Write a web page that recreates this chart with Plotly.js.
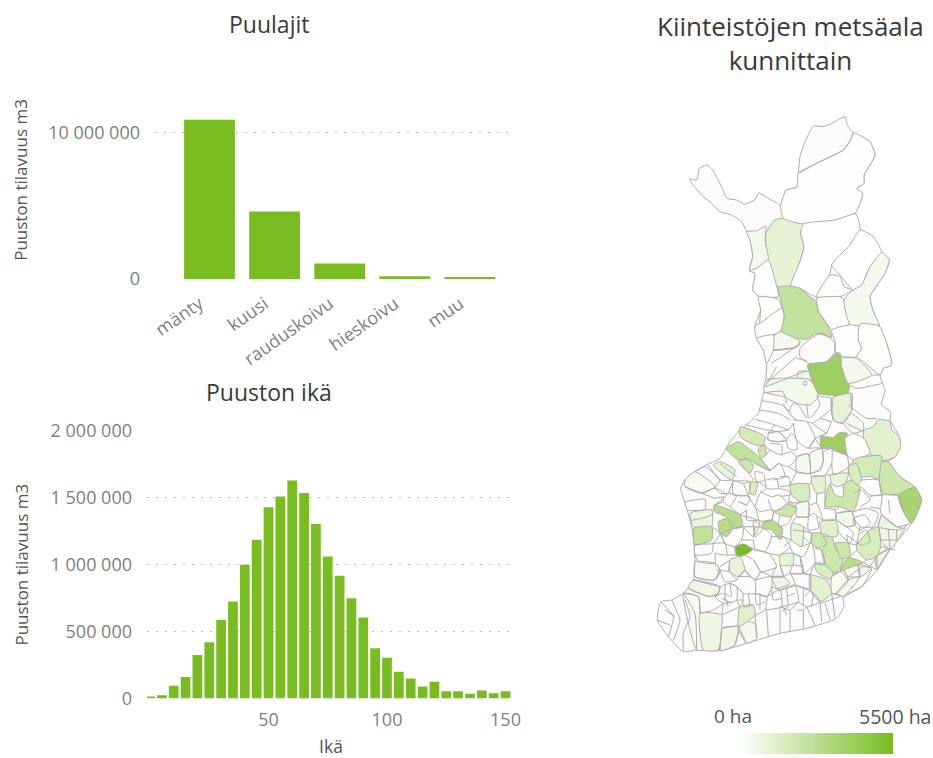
<!DOCTYPE html>
<html><head><meta charset="utf-8">
<script src="https://cdn.plot.ly/plotly-3.0.1.min.js"></script>
<style>html,body{margin:0;padding:0;background:#fff}</style></head>
<body><div id="chart" style="width:933px;height:758px"></div>
<script>
// ---- bar data
const species = ["mänty","kuusi","rauduskoivu","hieskoivu","muu"];
const speciesVolume = [10900000,4620000,1060000,190000,70000];
const ageClass = [0,5,10,15,20,25,30,35,40,45,50,55,60,65,70,75,80,85,90,95,100,105,110,115,120,125,130,135,140,145,150];
const ageVolume = [15000,25000,95000,160000,325000,420000,587000,725000,1000000,1187000,1430000,1510000,1630000,1537000,1305000,1062000,917000,750000,605000,375000,305000,200000,150000,90000,125000,55000,55000,35000,60000,40000,55000];
const legendValues = [0,500,1000,1500,2000,2500,3000,3500,4000,4500,5000,5500];

// ---- map data: "x,y x,y ..." in map units
const finlandOutline = "475,220 480,170 495,125 520,78 550,80 580,68 615,50 622,75 640,98 690,125 705,165 690,195 672,225 672,250 650,265 668,280 660,310 645,340 660,390 700,410 725,458 748,478 735,520 690,590 700,635 718,678 740,730 755,795 730,805 720,825 728,850 735,870 725,915 752,935 750,960 775,1005 782,1035 765,1070 745,1085 780,1130 825,1162 845,1200 815,1270 750,1350 712,1410 665,1460 610,1490 612,1520 590,1555 500,1585 420,1600 320,1630 240,1652 170,1650 130,1655 85,1610 52,1560 62,1505 95,1500 130,1480 160,1440 165,1385 160,1310 150,1260 135,1210 122,1165 135,1140 165,1115 205,1092 240,1075 270,1025 300,990 330,965 355,940 365,900 375,860 380,790 370,750 350,715 345,678 362,630 355,590 338,570 345,520 328,512 338,470 330,420 320,395 305,365 275,345 240,335 215,310 190,290 165,262 148,237 170,240 178,205 200,195 218,210 240,250 262,295 290,300 312,313 345,298 355,278 385,295 415,312 422,320 438,270 470,262 475,220";

const northHa = [1050,500,60,30,30,2400,120,120,80,120,120,120,3900,400,400,120,500,700,100];
const northAreas = [
"378,400 405,360 430,355 490,372 482,400 492,440 478,490 452,558 412,560 390,520 378,450",
"320,395 350,392 378,378 375,420 385,480 350,505 328,512 338,470 330,420",
"475,220 540,185 610,150 632,120 640,98 690,125 705,165 690,195 672,225 672,250 650,265 668,280 660,310 645,340 585,360 490,372 430,355 422,320 438,270 470,262",
"490,372 585,360 648,342 660,390 630,435 575,495 570,520 530,590 480,565 452,558 478,490 492,440 482,400",
"660,390 700,410 725,458 690,500 665,555 640,570 600,525 575,495 630,435",
"415,562 452,558 480,565 510,590 530,605 535,640 560,670 575,712 530,700 500,718 460,712 420,695 432,650 425,610",
"570,525 600,530 612,560 635,570 600,590 530,590",
"530,595 600,590 612,600 630,650 625,675 575,690 560,670 535,630",
"328,512 350,505 385,480 405,540 415,590 355,588 338,570 345,520",
"355,590 415,598 425,625 360,670 362,630",
"345,678 360,670 425,625 432,650 420,695 350,715",
"575,690 625,675 660,672 655,720 665,745 650,770 610,770 585,755 585,725",
"502,795 560,785 590,758 600,760 605,800 628,855 622,885 530,880 512,860 518,840",
"725,458 748,478 735,520 690,590 700,635 718,678 630,672 612,600 640,570 665,555 690,500",
"400,710 420,695 460,712 480,722 475,740 400,750",
"660,672 718,678 740,730 755,795 730,805 720,825 670,785 650,770 665,745 655,720",
"605,775 650,775 695,825 625,850 605,800",
"475,815 505,815 518,860 512,870 470,870",
"350,715 400,705 400,750 380,790 370,750"
];
const northLines = [
"475,220 540,185 610,150 632,120 640,98",
"400,750 470,740 480,725","395,790 475,735","375,860 410,800","380,848 470,770","470,775 500,782","378,860 500,812",
"585,755 590,758","480,745 500,725 530,705 550,700 585,730 585,755 560,785 505,790 480,770 480,745",
"490,845 500,845 500,855 490,855 490,845",
"720,825 695,825","628,855 650,865 728,850"
];

const southHa = [3900,1180,100,1750,2050,3500,2050,1600,1180,940,1600,2050,2850,5500,2500,2850,2850,1750,2500,2050,2050,1600,2050,2050,2050,2850,1600,1250,1600,1180,1250,660,940,940,940,940];
const southAreas = [
"542,170 580,172 598,158 622,160 615,185 620,225 600,218 575,205 545,205",
"672,150 700,140 715,118 750,125 755,150 778,170 782,200 765,230 730,243 695,225 672,190",
"615,175 640,160 672,175 690,220 640,240 622,225 615,185",
"648,235 725,228 715,298 695,290 660,290 630,255",
"725,245 745,245 780,290 825,322 775,345 725,340 718,300",
"775,345 825,322 845,360 815,430 785,385",
"570,310 585,345 610,350 610,315 630,300 660,320 640,395 600,380 555,380 560,340",
"450,315 505,312 508,360 480,365 455,345",
"515,290 555,290 555,335 530,340 515,310",
"570,285 625,280 615,310 590,320 575,310",
"625,260 648,250 665,300 650,315 630,290",
"402,395 430,385 450,365 470,385 455,410 420,405",
"370,425 395,420 428,445 420,480 395,450 370,445",
"285,500 312,492 338,508 315,525 290,527",
"160,445 215,440 215,480 165,495",
"235,425 262,415 280,440 260,470 240,460",
"222,375 300,405 308,440 280,445 262,412 225,395",
"300,140 375,170 370,195 345,195 300,170",
"260,205 295,185 350,225 390,272 345,250 320,235 295,240 265,215",
"355,205 375,195 378,225 362,235",
"295,245 320,238 340,255 330,280",
"330,310 352,305 345,345 330,340",
"515,460 545,460 560,490 535,505 515,490",
"550,470 575,470 585,500 610,540 585,580 555,555 545,510 560,490",
"585,490 625,490 630,530 605,535",
"600,570 625,533 670,548 640,558 605,572",
"650,495 690,450 715,440 722,500 710,530 680,540 650,510",
"540,425 585,420 595,445 590,470 575,470 545,460",
"525,550 550,550 580,580 570,598 530,575",
"510,585 560,600 575,640 540,665 510,630",
"300,680 340,675 345,705 295,740",
"180,700 245,705 245,745 235,810 190,810",
"270,540 300,530 315,570 295,590 270,575",
"455,430 490,440 485,500 455,480",
"420,525 460,520 458,555 420,555",
"240,245 285,270 275,300 220,255"
];
const paleHa = [330,800,300,660,500,700,500,400,500,660,660,500,1000,400,400,400,300,600,800,300,500,350];
const paleAreas = [
"135,300 165,275 225,320 185,340 135,320",
"150,400 215,390 215,440 160,440",
"130,640 175,650 180,700 190,810 170,810",
"245,745 295,740 285,795 240,812",
"320,725 345,730 350,775 320,790 295,745",
"395,590 430,590 450,610 410,625",
"340,420 370,445 345,470",
"470,370 505,365 505,410 470,410",
"590,400 635,395 645,435 620,440 590,420",
"725,405 770,440 790,445 800,435 750,510 722,480 715,440",
"160,600 240,620 235,640 210,650 145,625",
"378,0 510,0 535,50 510,75 470,70 430,50 372,35",
"575,55 635,40 635,90 610,130 580,120",
"610,130 632,100 670,130 670,150 640,160",
"510,220 545,205 550,240 540,270 510,280",
"470,230 505,222 510,280 470,275",
"575,590 610,570 625,600 590,640 575,640",
"655,555 695,565 660,590",
"705,530 750,505 722,550 712,570",
"385,160 415,155 440,180 415,185 385,180",
"590,640 625,600 660,590 610,650",
"165,545 225,550 240,570 225,600 165,590"
];
const southLines = [
"372,38 428,35 440,70","365,62 425,75 455,100","358,90 415,100 450,120","345,118 405,135 445,150","320,135 380,150 415,155",
"430,70 445,95 460,70 475,75 500,115","500,70 505,115","540,50 575,55 575,85 540,115 520,130 560,160","530,45 540,75 510,115",
"460,120 500,125 525,175 505,205 470,180 460,130","625,75 680,115 710,115","575,55 580,120 610,130 632,100","632,40 635,90","620,130 670,155","575,125 560,160",
"385,160 415,155 440,180 415,185 385,180","440,180 455,160 470,180 470,210 445,205 440,180","390,190 425,195 425,225 390,210","425,225 455,215 470,235 445,260 415,250",
"470,230 505,222 510,280 470,275","505,205 545,205 550,240 540,270 510,280","550,215 575,205 575,250 555,285 515,290","575,210 620,225 625,260 580,285 575,250",
"390,272 420,250 435,290 400,300","345,250 390,272","300,250 340,300 310,310 280,300","240,250 290,290","205,255 240,300 280,300",
"165,275 195,260 240,300 225,320","135,320 225,355","185,340 225,325 260,345 225,375","135,365 195,358 195,388 145,392","150,422 215,405 222,375",
"280,305 330,305 325,345 280,345 280,305","345,275 370,280 375,300 350,305 345,275","380,300 410,295 415,325 380,325 375,300","420,290 445,290 450,315 420,320",
"355,305 380,325 360,340 345,380","320,345 345,380 355,420 320,420 320,390","360,335 395,350 420,345 440,370 400,395 385,360","290,345 330,350 320,375 295,365",
"265,340 290,345 270,380 250,365 250,350","360,395 400,390 395,420 365,425","415,325 450,335 445,365","420,350 450,345",
"470,370 505,365 505,410 470,410","510,375 530,370 548,420 520,400 508,410","550,385 585,390 585,420 550,420","590,400 635,395 645,435 620,440 590,420",
"640,340 665,330 690,360 660,380","665,300 715,300 725,345 690,345 665,320","690,350 725,345 720,385 690,380","640,395 680,385 715,400 700,440 660,440 645,420",
"725,345 775,345 790,395 810,430 770,440 725,405 720,385","745,360 750,400","725,405 715,440 770,450 790,445","722,480 770,480","722,500 765,510",
"620,440 640,460 630,490 590,450","640,415 675,405 690,430 660,450 640,430 640,415","660,460 680,450 690,485 665,495 620,465",
"505,410 505,450 535,445 530,410","470,410 455,430","420,405 415,440 445,430 455,410","300,405 360,425 340,470 310,440",
"215,440 240,460 220,490 165,495 165,525 215,520 220,490","165,525 175,545 225,550 225,520","165,545 165,590 225,600 240,570 225,550","160,600 240,620","145,625 210,650 235,640 240,620",
"240,460 280,445 310,440 305,480 285,500 255,490 245,465","220,490 255,490 260,525 225,520","260,525 285,525 300,530","240,560 270,540","230,570 265,575 290,600 255,605 240,570",
"345,440 370,445 395,465 375,515 345,505 340,480","395,470 430,470 450,500 420,525 385,520 375,515","340,510 385,520 410,560 365,575 340,540","315,525 340,540 360,575 345,600 315,570",
"420,555 430,590 395,590 410,560","460,450 515,460 510,490 490,530 460,520 450,500","485,500 515,490 525,550 490,580 480,530","460,520 480,530 490,580 450,580 458,555",
"395,590 430,590 450,580 465,615 420,630 395,620","450,580 510,585 510,630 465,615","295,590 330,590 345,600 345,640 310,640 290,620 270,610","345,600 395,590 395,620 380,650 345,640",
"240,620 270,610 290,620 290,660 250,670 225,650 235,640","255,610 255,660","310,640 310,680 340,675","345,640 380,650 375,690 345,705","380,650 420,630 425,680 375,690","420,630 465,615 475,665 425,680",
"465,615 510,630 540,665 500,680 475,665","575,640 610,650","575,590 610,570 625,600 590,640 575,640","625,590 670,560 695,565 665,620 610,650","670,548 712,570","655,555 660,590 625,590","705,530 750,505","600,570 625,600",
"180,700 175,650 130,640","130,640 165,700 170,810","135,660 150,710 130,760 130,815","62,665 100,710 85,770","95,660 120,720 100,780","75,690 105,710","52,720 90,735",
"245,705 300,680","250,745 295,740 285,795","245,745 240,812","295,740 320,790","345,705 350,775","380,690 385,770","420,680 420,760","450,690 450,755","490,690 490,745","500,680 525,735","540,665 545,725",
"575,640 585,715","555,670 570,720","600,650 540,670","250,670 245,705","180,700 220,690 250,670","300,680 290,660","475,665 450,690 420,680","500,680 490,690 470,690",
"245,655 275,670","255,650 265,680","425,695 445,680","430,680 440,705","525,505 545,510 555,555 525,550",
"225,650 250,640 270,650","270,610 275,650","290,620 310,640","290,660 310,660","325,640 330,678","345,640 350,675 375,665","360,645 360,690","395,620 400,660 425,655","440,625 445,675","465,640 440,650","490,625 490,675","510,630 495,650","520,640 515,680",
"240,570 225,600","290,600 295,590","265,575 270,540","300,530 315,525","315,570 295,590","330,590 315,570","365,575 395,590","345,600 365,575","430,590 420,555","460,555 490,560","510,585 490,580","525,550 510,585",
"490,440 515,460","490,470 510,490","430,470 455,480","430,500 455,480","420,480 430,470",
"625,490 650,495","630,530 650,510","670,548 680,540","710,530 712,570","690,560 710,530","640,558 655,555","585,580 610,570",
"660,440 650,495","620,465 625,490","690,450 700,440","715,440 722,480","745,450 750,505","770,450 770,480",
"445,100 470,120","405,135 385,160","445,150 460,130","415,155 445,150","500,125 520,130","540,115 575,125","505,205 525,175","525,175 560,160","560,160 542,170","545,205 525,175",
"390,210 370,195","385,180 375,170","378,225 390,210","362,235 390,272","415,250 390,272","445,260 470,275","435,290 445,290","470,275 450,315","510,280 515,290","555,285 570,285","625,260 625,280","505,312 515,310",
"470,370 445,365","440,370 470,385","480,365 470,370","530,340 530,370","555,335 555,380","585,390 600,380",
"225,320 240,340 265,340","280,300 265,340","310,310 325,345","225,355 250,350","225,375 250,365","270,380 300,405","295,365 320,375","320,390 300,405","345,380 360,395","395,420 402,395","355,420 370,425","340,470 345,440","310,440 345,440","305,480 340,480","285,500 345,505","240,460 255,490"
];
const southShift = 840;   // the southern sheet continues below the northern one

// ---- helpers
const parse = (s, dy) => { const x=[], y=[]; s.split(" ").forEach(p => { const [a,b]=p.split(",").map(Number); x.push(a); y.push(b+dy); }); return {x,y}; };
const colorOf = ha => { const t=ha/5500; const m=(a)=>Math.round(255+(a-255)*t); return `rgb(${m(120)},${m(188)},${m(32)})`; };
const lineCol = "#adadad";
const GREEN = "#78bc20";
const W=933, H=758;
const dx=(a,b)=>[a/W,b/W], dy=(top,bot)=>[1-bot/H,1-top/H];
const border={color:lineCol,width:1,shape:"spline",smoothing:0.5};

const traces = [];
traces.push({type:"bar",x:species,y:speciesVolume,xaxis:"x",yaxis:"y",marker:{color:GREEN},showlegend:false,hoverinfo:"x+y"});
traces.push({type:"bar",x:ageClass,y:ageVolume,xaxis:"x2",yaxis:"y2",marker:{color:GREEN},width:4.1,showlegend:false,hoverinfo:"x+y"});

const base = parse(finlandOutline,0);
traces.push({type:"scatter",mode:"lines",x:base.x,y:base.y,xaxis:"x3",yaxis:"y3",fill:"toself",fillcolor:"#fcfdfa",line:border,hoverinfo:"skip",showlegend:false});
const addArea=(s,ha,d)=>{const p=parse(s,d);p.x.push(p.x[0]);p.y.push(p.y[0]);
  traces.push({type:"scatter",mode:"lines",x:p.x,y:p.y,xaxis:"x3",yaxis:"y3",fill:"toself",fillcolor:colorOf(ha),line:border,text:ha+" ha",hoverinfo:"text",showlegend:false});};
northAreas.forEach((s,i)=>addArea(s,northHa[i],0));
paleAreas.forEach((s,i)=>addArea(s,paleHa[i],southShift));
southAreas.forEach((s,i)=>addArea(s,southHa[i],southShift));
const lx=[],ly=[];
const addLine=(s,d)=>{const p=parse(s,d);lx.push(...p.x,null);ly.push(...p.y,null);};
northLines.forEach(s=>addLine(s,0));
southLines.forEach(s=>addLine(s,southShift));
traces.push({type:"scatter",mode:"lines",x:lx,y:ly,xaxis:"x3",yaxis:"y3",line:border,hoverinfo:"skip",showlegend:false});

traces.push({type:"heatmap",z:[legendValues],x:legendValues,xaxis:"x4",yaxis:"y4",zmin:0,zmax:5500,zsmooth:"best",showscale:false,hoverinfo:"skip",
  colorscale:[[0,"#ffffff"],[1,GREEN]]});

const FONT="'Open Sans','Noto Sans',sans-serif";
const tick={family:FONT,size:18,color:"#7f7f7f"};
const grid={showgrid:true,gridcolor:"#bdbdbd",griddash:"1.5px,7.5px",gridwidth:1.2,zeroline:false,showline:false,ticks:""};
const yTitle=s=>({text:"Puuston tilavuus m3",font:{family:FONT,size:17,color:"#555"},standoff:s});
const note=(text,x,y,size,color)=>({text,xref:"paper",yref:"paper",x:x/W,y:1-y/H,xanchor:"center",yanchor:"middle",showarrow:false,align:"center",font:{family:FONT,size,color}});

const layout={
  width:W,height:H,autosize:false,margin:{l:0,r:0,t:0,b:0},paper_bgcolor:"#fff",plot_bgcolor:"#fff",
  separators:", ",showlegend:false,bargap:0.22,font:{family:FONT},
  xaxis:{domain:dx(155,515),range:[-0.837,4.693],type:"category",showgrid:false,zeroline:false,showline:false,ticks:"",tickangle:-35,tickfont:tick,ticklabelstandoff:10,ticklabelshift:-10,anchor:"y"},
  yaxis:Object.assign({},grid,{domain:dy(81,279),range:[0,13560000],tickvals:[0,10000000],tickformat:",d",tickfont:tick,ticklabelstandoff:14,title:yTitle(16),anchor:"x"}),
  xaxis2:{domain:dx(147,515),range:[-1.27,154],showgrid:false,zeroline:false,showline:false,ticks:"",tickvals:[50,100,150],tickfont:tick,ticklabelstandoff:8,anchor:"y2",
    title:{text:"Ikä",font:{family:FONT,size:17.5,color:"#555"},standoff:13}},
  yaxis2:Object.assign({},grid,{domain:dy(431,698.5),range:[0,2000000],tickvals:[0,500000,1000000,1500000,2000000],tickformat:",d",tickfont:tick,ticklabelstandoff:14,title:yTitle(17),anchor:"x2"}),
  xaxis3:{domain:dx(640,930),range:[0,870],visible:false,anchor:"y3"},
  yaxis3:{domain:dy(100,670),range:[1710,0],visible:false,anchor:"x3"},
  xaxis4:{domain:dx(740,893),range:[0,5500],visible:false,anchor:"y4"},
  yaxis4:{domain:dy(733,754),visible:false,anchor:"x4"},
  annotations:[
    note("Puulajit",269,24,23,"#3a3a3a"),
    note("Puuston ikä",269,392,23,"#3a3a3a"),
    note("Kiinteistöjen metsäala<br>kunnittain",790,43,26,"#3a3a3a"),
    note("0 ha",733,716,19,"#555"),
    note("5500 ha",895,716,19.5,"#555")
  ]
};
Plotly.newPlot("chart",traces,layout,{displayModeBar:false});
</script></body></html>
